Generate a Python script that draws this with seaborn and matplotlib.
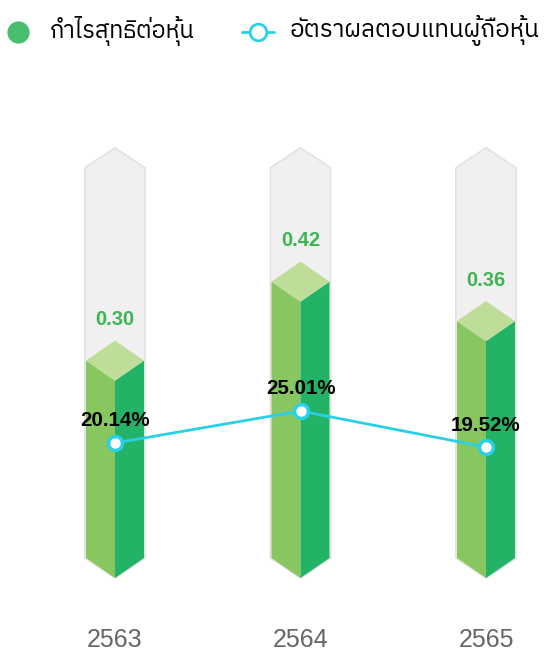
import matplotlib
matplotlib.use("Agg")
import matplotlib.pyplot as plt
from matplotlib.lines import Line2D
from matplotlib import font_manager as fm
from matplotlib.ft2font import FT2Font
import seaborn as sns
import pandas as pd

# ---------------- data ----------------
years = ["2563", "2564", "2565"]
eps = [0.30, 0.42, 0.36]
roe = [20.14, 25.01, 19.52]
eps_labels = ["0.30", "0.42", "0.36"]
roe_labels = ["20.14%", "25.01%", "19.52%"]
legend_labels = ["กำไรสุทธิต่อหุ้น", "อัตราผลตอบแทนผู้ถือหุ้น"]
bg_max = 0.593

# ---------------- fonts ----------------
sns.set_theme(style="white")
thai_font = None
preferred = []
for f in fm.fontManager.ttflist:
    try:
        cmap = FT2Font(f.fname).get_charmap()
        if 0x0E01 in cmap and 0x0E33 in cmap:
            preferred.append(f.name)
    except Exception:
        pass
for p in preferred:
    if "Sans" in p or "Noto" in p:
        thai_font = p
        break
if thai_font is None and preferred:
    thai_font = preferred[0]
fam = ["Liberation Sans", "DejaVu Sans"]
thai_fam = ([thai_font] if thai_font else []) + ["DejaVu Sans"]
plt.rcParams["font.family"] = fam

W, H = 557, 664
fig = plt.figure(figsize=(W / 100, H / 100), dpi=100)

# axes placement in pixels
ax_top_px, ax_bot_px = 100, 600
ax = fig.add_axes([0, 1 - ax_bot_px / H, 1, (ax_bot_px - ax_top_px) / H])
ax2 = ax.twinx()

# pixel-based scales
x0_px, dx_px = 115, 185.5
zero_px, s_px = 558, 658.0
zero2_px, s2_px = 575.3, 6.57
ax.set_xlim(-x0_px / dx_px, (W - x0_px) / dx_px)
ax.set_ylim((zero_px - ax_bot_px) / s_px, (zero_px - ax_top_px) / s_px)
ax2.set_ylim((zero2_px - ax_bot_px) / s2_px, (zero2_px - ax_top_px) / s2_px)

hw = 29 / dx_px       # half width
dip = 20 / s_px       # chevron depth

c_left = "#88C660"
c_right = "#22B366"
c_top = "#BEDD98"
c_bg = "#F0F0F0"
c_bg_edge = "#E2E2E2"
c_lbl = "#3DB552"
c_line = "#2AD0E6"

xs = list(range(len(years)))
for i, v in zip(xs, eps):
    # background prism
    bx = [i - hw - 0.006, i - hw - 0.006, i, i + hw + 0.006, i + hw + 0.006, i]
    by = [0, bg_max, bg_max + dip, bg_max, 0, -dip]
    ax.fill(bx, by, facecolor=c_bg, edgecolor=c_bg_edge, lw=1.2, zorder=1)
    # left face
    ax.fill([i - hw, i - hw, i, i], [0, v, v - dip, -dip], color=c_left, lw=0, zorder=2)
    # right face
    ax.fill([i, i, i + hw, i + hw], [-dip, v - dip, v, 0], color=c_right, lw=0, zorder=2)
    # top diamond
    ax.fill([i - hw, i, i + hw, i], [v, v + dip, v, v - dip], color=c_top, lw=0, zorder=3)

for i, v, t in zip(xs, eps, eps_labels):
    ax.text(i, v + 41 / s_px, t, ha="center", va="center", color=c_lbl,
            fontsize=14.5, fontweight="bold", zorder=5)

df = pd.DataFrame({"x": xs, "roe": roe})
sns.lineplot(data=df, x="x", y="roe", ax=ax2, color=c_line, lw=2, marker="o",
             markersize=10, markerfacecolor="white", markeredgecolor=c_line,
             markeredgewidth=2.5, zorder=6)
for i, r, t in zip(xs, roe, roe_labels):
    ax2.annotate(t, (i, r), xytext=(0, 22), textcoords="offset pixels",
                 ha="center", va="center", fontsize=14.8, fontweight="bold",
                 color="black", zorder=7)

ax.set_xticks(xs)
ax.set_xticklabels(years, fontsize=18, color="#666666")
ax.tick_params(axis="x", length=0, pad=20.5)
ax.set_yticks([])
ax2.set_yticks([])
ax2.set_ylabel("")
ax2.set_xlabel("")
ax.set_xlabel("")
for a in (ax, ax2):
    for s in a.spines.values():
        s.set_visible(False)
    a.patch.set_visible(False)

# legend (manual, pixel positions)
def fx(px):
    return px / W

def fy(py):
    return 1 - py / H

fig.add_artist(Line2D([fx(18)], [fy(32)], marker="o", markersize=16,
                      markerfacecolor="#47BE6D", markeredgecolor="none",
                      transform=fig.transFigure))
fig.text(fx(50), fy(31), legend_labels[0], ha="left", va="center", fontsize=17,
         family=thai_fam, color="black")
fig.add_artist(Line2D([fx(242), fx(274)], [fy(32), fy(32)], color=c_line, lw=2,
                      transform=fig.transFigure))
fig.add_artist(Line2D([fx(258)], [fy(32)], marker="o", markersize=12,
                      markerfacecolor="white", markeredgecolor=c_line,
                      markeredgewidth=2, transform=fig.transFigure))
fig.text(fx(290), fy(31), legend_labels[1], ha="left", va="center", fontsize=17.5,
         family=thai_fam, color="black")

fig.savefig("out.png", dpi=100)
